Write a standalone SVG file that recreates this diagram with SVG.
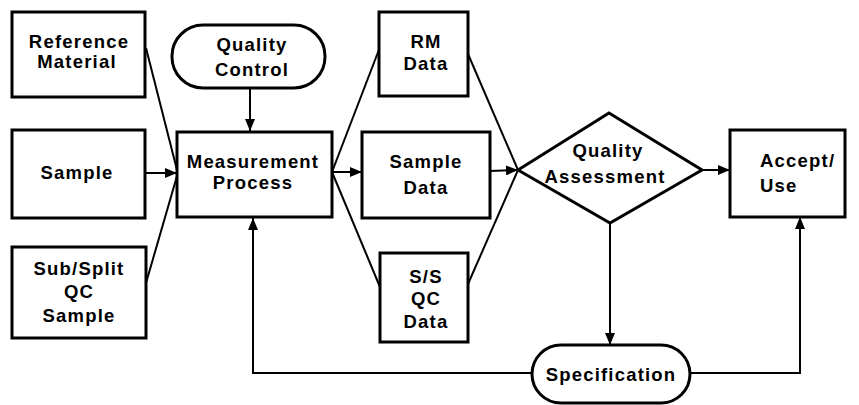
<svg xmlns="http://www.w3.org/2000/svg" width="859" height="405" viewBox="0 0 859 405">
  <defs>
    <marker id="arrow" viewBox="0 0 12 10" refX="12" refY="5" markerWidth="12" markerHeight="10" markerUnits="userSpaceOnUse" orient="auto">
      <path d="M0,0 L12,5 L0,10 Z" fill="#000"/>
    </marker>
    <style>
      .box { fill: #fff; stroke: #000; stroke-width: 3; }
      .edge { fill: none; stroke: #000; stroke-width: 2; }
      .arr { marker-end: url(#arrow); }
      text { font-family: "Liberation Sans", Arial, sans-serif; font-weight: bold; font-size: 18.5px; letter-spacing: 1.2px; fill: #000; text-anchor: middle; }
      .left { text-anchor: start; }
    </style>
  </defs>
  <rect width="859" height="405" fill="#fff"/>

  <!-- connectors -->
  <g id="connectors">
    <line class="edge" x1="146" y1="48" x2="177" y2="170"/>
    <line class="edge arr" x1="145" y1="173" x2="177" y2="173"/>
    <line class="edge" x1="146" y1="283" x2="177" y2="176"/>
    <line class="edge arr" x1="250" y1="88" x2="250" y2="131"/>
    <line class="edge arr" x1="332" y1="172" x2="362" y2="172"/>
    <line class="edge" x1="332" y1="172" x2="380" y2="47"/>
    <line class="edge" x1="332" y1="172" x2="380" y2="287"/>
    <line class="edge" x1="468" y1="54" x2="518" y2="170"/>
    <line class="edge arr" x1="490" y1="171" x2="518" y2="170"/>
    <line class="edge" x1="468" y1="284" x2="518" y2="170"/>
    <line class="edge arr" x1="702" y1="170" x2="730" y2="170"/>
    <line class="edge arr" x1="610" y1="223" x2="610" y2="345"/>
    <polyline class="edge arr" points="690,373 800,373 800,217"/>
    <polyline class="edge arr" points="532,373 253,373 253,218"/>
  </g>

  <g id="reference-material">
    <rect class="box" x="12" y="12" width="133" height="85"/>
    <text x="79" y="48">Reference</text>
    <text x="77" y="68">Material</text>
  </g>

  <g id="sample">
    <rect class="box" x="12" y="130" width="133" height="88"/>
    <text x="77" y="179">Sample</text>
  </g>

  <g id="sub-split-qc-sample">
    <rect class="box" x="12" y="247" width="134" height="91"/>
    <text x="79" y="275">Sub/Split</text>
    <text x="79" y="298">QC</text>
    <text x="79" y="322">Sample</text>
  </g>

  <g id="quality-control">
    <rect class="box" x="172" y="25" width="153" height="63" rx="31" ry="31"/>
    <text x="252" y="51">Quality</text>
    <text x="252" y="76">Control</text>
  </g>

  <g id="measurement-process">
    <rect class="box" x="177" y="132" width="155" height="85"/>
    <text x="253" y="168">Measurement</text>
    <text x="253" y="189">Process</text>
  </g>

  <g id="rm-data">
    <rect class="box" x="379" y="12" width="89" height="84"/>
    <text x="426" y="48">RM</text>
    <text x="426" y="70">Data</text>
  </g>

  <g id="sample-data">
    <rect class="box" x="362" y="132" width="128" height="86"/>
    <text x="426" y="168">Sample</text>
    <text x="426" y="194">Data</text>
  </g>

  <g id="ss-qc-data">
    <rect class="box" x="380" y="253" width="88" height="89"/>
    <text x="426" y="283">S/S</text>
    <text x="426" y="305">QC</text>
    <text x="426" y="328">Data</text>
  </g>

  <g id="quality-assessment">
    <polygon class="box" points="518,170 609,113 702,170 610,223"/>
    <text x="608" y="157">Quality</text>
    <text x="605" y="183">Assessment</text>
  </g>

  <g id="accept-use">
    <rect class="box" x="730" y="130" width="115" height="87"/>
    <text class="left" x="760" y="167">Accept/</text>
    <text class="left" x="760" y="192">Use</text>
  </g>

  <g id="specification">
    <rect class="box" x="532" y="345" width="158" height="58" rx="29" ry="29"/>
    <text x="611" y="381">Specification</text>
  </g>
</svg>
